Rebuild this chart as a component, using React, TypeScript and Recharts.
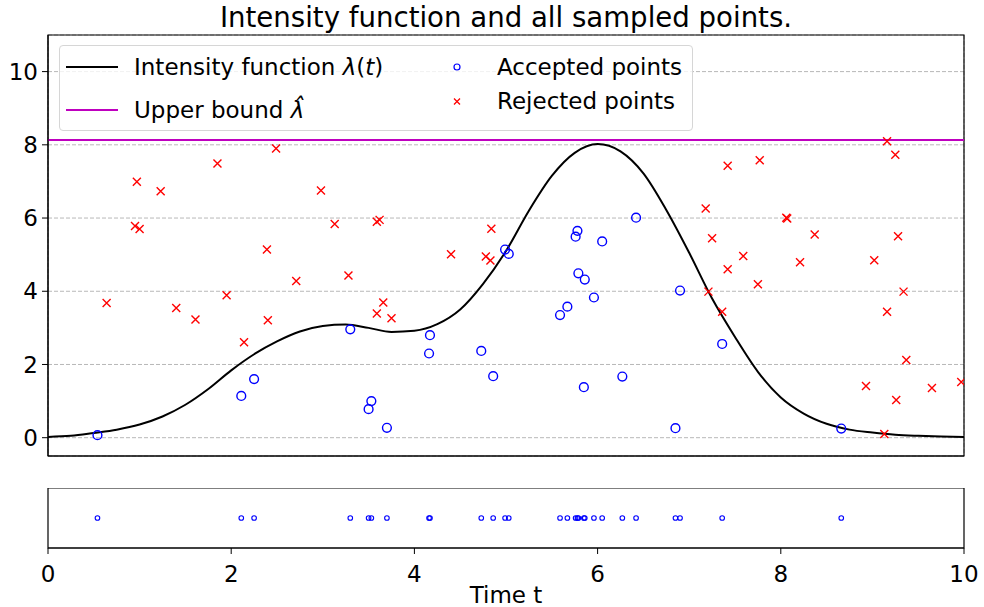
import { ComposedChart, ScatterChart, Line, Scatter, XAxis, YAxis, CartesianGrid, ReferenceLine, ReferenceArea } from 'recharts';

// Intensity curve sampled on a 0.25 grid
const CURVE_T = [
  0, 0.25, 0.5, 0.75, 1, 1.25, 1.5, 1.75, 2, 2.25, 2.5, 2.75, 3, 3.25, 3.5, 3.75, 4, 4.25, 4.5, 4.75,
  5, 5.25, 5.5, 5.75, 6, 6.25, 6.5, 6.75, 7, 7.25, 7.5, 7.75, 8, 8.25, 8.5, 8.75, 9, 9.25, 9.5, 9.75, 10,
];
const CURVE_LAMBDA = [
  0.02, 0.05, 0.13, 0.22, 0.36, 0.58, 0.9, 1.33, 1.84, 2.28, 2.63, 2.9, 3.05, 3.09, 3.0, 2.89, 2.92, 3.1, 3.5, 4.2,
  5.1, 6.2, 7.15, 7.78, 8.02, 7.82, 7.22, 6.22, 5.05, 3.8, 2.75, 1.8, 1.1, 0.66, 0.38, 0.22, 0.14, 0.08, 0.05, 0.03, 0.02,
];

const UPPER_BOUND = 8.13;

// Thinning candidates that were kept
const ACCEPTED_T = [
  0.54, 2.11, 2.25, 3.3, 3.5, 3.53, 3.7, 4.16, 4.17, 4.73, 4.86, 4.99, 5.03, 5.59,
  5.67, 5.76, 5.78, 5.79, 5.85, 5.86, 5.96, 6.05, 6.27, 6.42, 6.85, 6.9, 7.36, 8.66,
];
const ACCEPTED_U = [
  0.07, 1.14, 1.6, 2.96, 0.78, 1.0, 0.27, 2.3, 2.8, 2.37, 1.68, 5.14, 5.02, 3.35,
  3.58, 5.49, 5.65, 4.49, 1.38, 4.32, 3.83, 5.36, 1.67, 6.01, 0.26, 4.02, 2.56, 0.25,
];

// Thinning candidates that were thrown away
const REJECTED_T = [
  0.64, 0.97, 0.95, 1.0, 1.23, 1.4, 1.61, 1.85, 1.95, 2.14, 2.39, 2.4, 2.49, 2.71, 2.98, 3.13, 3.28,
  3.59, 3.62, 3.59, 3.66, 3.75, 4.4, 4.78, 4.83, 4.84, 7.18, 7.21, 7.25, 7.36, 7.42, 7.42, 7.59, 7.75,
  7.77, 8.06, 8.07, 8.21, 8.37, 8.93, 9.02, 9.13, 9.16, 9.16, 9.25, 9.26, 9.28, 9.34, 9.37, 9.65, 9.97,
];
const REJECTED_U = [
  3.68, 6.99, 5.78, 5.7, 6.73, 3.54, 3.23, 7.49, 3.89, 2.61, 5.14, 3.21, 7.9, 4.28, 6.75, 5.84, 4.43,
  5.9, 5.95, 3.39, 3.69, 3.26, 5.01, 4.95, 4.84, 5.71, 6.26, 3.99, 5.45, 3.44, 7.43, 4.6, 4.96, 4.19,
  7.58, 6.01, 5.99, 4.79, 5.55, 1.41, 4.85, 0.1, 8.1, 3.44, 7.73, 1.03, 5.5, 3.99, 2.12, 1.36, 1.52,
];

const X_TICKS = [0, 2, 4, 6, 8, 10];
const Y_TICKS = [0, 2, 4, 6, 8, 10];

const curveData = CURVE_T.map((t, i) => ({ t, y: CURVE_LAMBDA[i] }));
const acceptedData = ACCEPTED_T.map((t, i) => ({ t, y: ACCEPTED_U[i] }));
const rejectedData = REJECTED_T.map((t, i) => ({ t, y: REJECTED_U[i] }));
const stripData = ACCEPTED_T.map((t) => ({ t, y: 0 }));

const FONT = '"DejaVu Sans", sans-serif';
const tickStyle = { fontSize: 23, fill: '#000', fontFamily: FONT };

const OpenCircle = (props: any) => (
  <circle cx={props.cx} cy={props.cy} r={4.4} fill="none" stroke="#0000ff" strokeWidth={1.4} />
);
const SmallCircle = (props: any) => (
  <circle cx={props.cx} cy={props.cy} r={2.3} fill="none" stroke="#0000ff" strokeWidth={1.1} />
);
const Cross = (props: any) => {
  const { cx, cy } = props;
  const s = 4;
  return (
    <path
      d={`M${cx - s},${cy - s}L${cx + s},${cy + s}M${cx - s},${cy + s}L${cx + s},${cy - s}`}
      stroke="#ff0000"
      strokeWidth={1.4}
    />
  );
};

function LegendBox() {
  const text = { position: 'absolute' as const, fontSize: 23, lineHeight: '23px', whiteSpace: 'nowrap' as const };
  return (
    <div
      style={{
        position: 'absolute', left: 59, top: 45, width: 634, height: 86,
        border: '1px solid #d6d6d6', borderRadius: 4, background: 'rgba(255,255,255,0.8)',
        fontFamily: FONT, color: '#000', boxSizing: 'border-box',
      }}
    >
      <svg width={634} height={86} style={{ position: 'absolute', left: -1, top: -1 }}>
        <line x1={7} x2={59} y1={22} y2={22} stroke="#000" strokeWidth={2} />
        <line x1={7} x2={59} y1={65} y2={65} stroke="#bf00bf" strokeWidth={2} />
        <circle cx={398} cy={22} r={3} fill="none" stroke="#0000ff" strokeWidth={1.2} />
        <path d="M395,53.5L401,59.5M395,59.5L401,53.5" stroke="#ff0000" strokeWidth={1.3} />
      </svg>
      <div style={{ ...text, left: 74, top: 10 }}>
        Intensity function <i>λ</i>(<i>t</i>)
      </div>
      <div style={{ ...text, left: 74, top: 53 }}>
        Upper bound <i>λ̂</i>
      </div>
      <div style={{ ...text, left: 437, top: 10 }}>Accepted points</div>
      <div style={{ ...text, left: 437, top: 44 }}>Rejected points</div>
    </div>
  );
}

export default function App() {
  return (
    <div style={{ position: 'absolute', left: 0, top: 0, width: 984, height: 607, background: '#fff', fontFamily: FONT }}>
      <div
        style={{
          position: 'absolute', left: 48, top: 4, width: 916, textAlign: 'center',
          fontSize: 27.6, lineHeight: '27.6px', color: '#000', whiteSpace: 'nowrap',
        }}
      >
        Intensity function and all sampled points.
      </div>

      <div style={{ position: 'absolute', left: 0, top: 0 }}>
        <ComposedChart width={984} height={470} margin={{ top: 35, right: 20, bottom: 0, left: 0 }}>
          <CartesianGrid stroke="#b8b8b8" strokeDasharray="4 2" strokeWidth={1} />
          <XAxis
            dataKey="t"
            type="number"
            domain={[0, 10]}
            ticks={X_TICKS}
            tick={false}
            tickSize={6}
            height={14}
            stroke="#000"
            allowDataOverflow
          />
          <YAxis
            dataKey="y"
            type="number"
            domain={[-0.5, 11]}
            ticks={Y_TICKS}
            tick={tickStyle}
            tickSize={6}
            tickMargin={4}
            width={48}
            stroke="#000"
            allowDataOverflow
          />
          <ReferenceArea x1={0} x2={10} y1={-0.5} y2={11} fill="none" stroke="#000" strokeWidth={1.2} />
          <ReferenceLine y={UPPER_BOUND} stroke="#bf00bf" strokeWidth={2} />
          <Line
            data={curveData}
            dataKey="y"
            type="monotone"
            stroke="#000"
            strokeWidth={2}
            dot={false}
            activeDot={false}
            isAnimationActive={false}
          />
          <Scatter data={acceptedData} shape={OpenCircle} isAnimationActive={false} />
          <Scatter data={rejectedData} shape={Cross} isAnimationActive={false} />
        </ComposedChart>
      </div>

      <LegendBox />

      <div style={{ position: 'absolute', left: 0, top: 488 }}>
        <ScatterChart width={984} height={119} margin={{ top: 0, right: 20, bottom: 0, left: 48 }}>
          <XAxis
            dataKey="t"
            type="number"
            domain={[0, 10]}
            ticks={X_TICKS}
            tick={tickStyle}
            tickSize={6}
            tickMargin={12}
            height={59}
            stroke="#000"
            label={{ value: 'Time t', position: 'insideBottom', offset: 4, fontSize: 23, fill: '#000', fontFamily: FONT }}
          />
          <YAxis dataKey="y" type="number" domain={[-1, 1]} hide />
          <ReferenceArea x1={0} x2={10} y1={-1} y2={1} fill="none" stroke="#000" strokeWidth={1.2} />
          <Scatter data={stripData} shape={SmallCircle} isAnimationActive={false} />
        </ScatterChart>
      </div>
    </div>
  );
}
